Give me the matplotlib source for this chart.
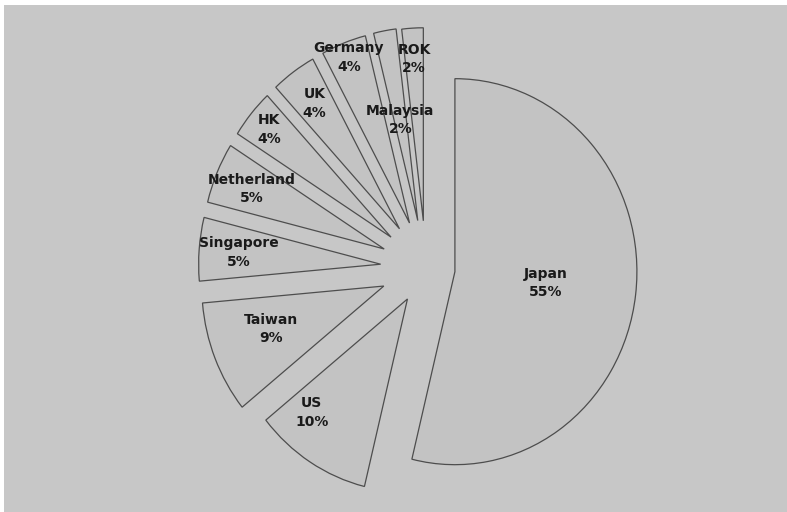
import numpy as np
import matplotlib
matplotlib.use("Agg")
import matplotlib.pyplot as plt

countries = ["Japan", "US", "Taiwan", "Singapore", "Netherland", "HK", "UK", "Germany", "Malaysia", "ROK"]
# slice sizes as drawn in the picture (labels show the rounded percentages)
shares = [53.8, 10.4, 9.4, 5.3, 5.1, 4.1, 4.0, 4.0, 2.0, 1.9]
pct_labels = ["55%", "10%", "9%", "5%", "5%", "4%", "4%", "4%", "2%", "2%"]

explode = [0.16, 0.19, 0.25, 0.25, 0.25, 0.25, 0.25, 0.25, 0.25, 0.245]
label_r = [0.5, 0.79, 0.66, 0.78, 0.79, 0.87, 0.8, 0.92, 0.53, 0.84]
label_frac = [0.5, 0.75, 0.57, 0.5, 0.5, 0.5, 0.5, 0.5, 0.5, 0.5]

W, H = 787, 512
fig = plt.figure(figsize=(W / 100, H / 100), dpi=100, facecolor="white")
left_px, top_px = 4, 5
ax = fig.add_axes([left_px / W, 0, 1 - left_px / W, 1 - top_px / H])

# pixel mapping: x_px = cx + rx*X ; y_px = cy - ry*Y
cx, cy, rx, ry = 426, 268, 182, 193

wedges, _ = ax.pie(shares, explode=explode, startangle=90, counterclock=False,
                   colors=["#c3c3c3"] * len(shares),
                   wedgeprops=dict(edgecolor="#4d4d4d", linewidth=0.9),
                   frame=True)
ax.set_xlim((left_px - cx) / rx, (W - cx) / rx)
ax.set_ylim((cy - H) / ry, (cy - top_px) / ry)
ax.set_aspect("auto")
ax.set_facecolor("#c7c7c7")
for s in ax.spines.values():
    s.set_visible(False)
ax.set_xticks([])
ax.set_yticks([])

for i, w in enumerate(wedges):
    # wedges drawn clockwise: theta2 is the start, theta1 the end
    ang = np.deg2rad(w.theta2 + (w.theta1 - w.theta2) * label_frac[i])
    x0, y0 = w.center
    x = x0 + label_r[i] * np.cos(ang)
    y = y0 + label_r[i] * np.sin(ang)
    ax.text(x, y, f"{countries[i]}\n{pct_labels[i]}", ha="center", va="center",
            fontsize=10, fontweight="bold",
            color="#1a1a1a", linespacing=1.4, family="DejaVu Sans")

fig.savefig("out.png", dpi=100, facecolor="white")
